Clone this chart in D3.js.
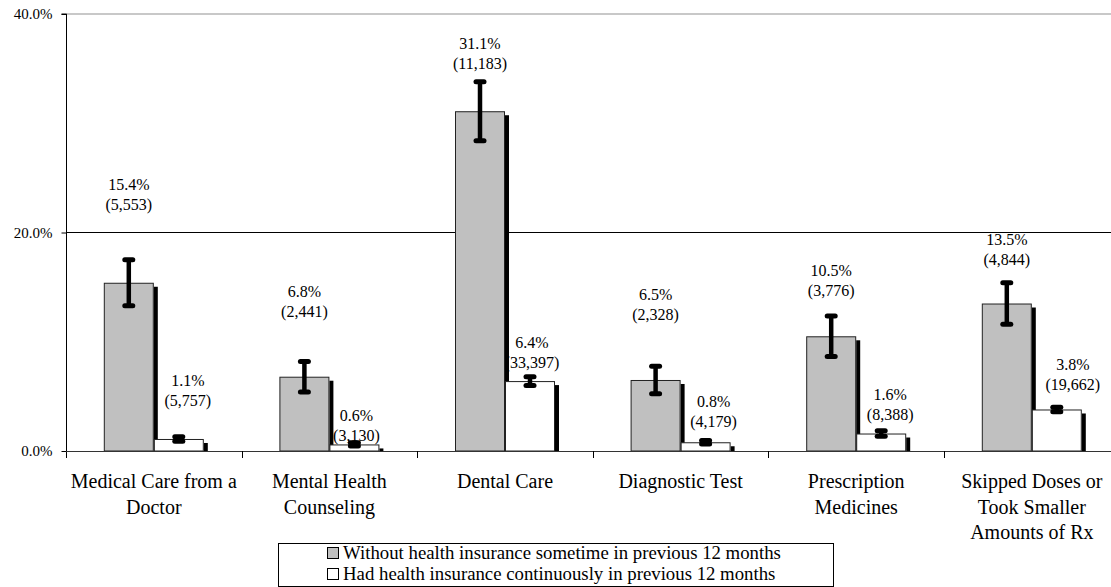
<!DOCTYPE html>
<html><head><meta charset="utf-8">
<script src="https://cdn.jsdelivr.net/npm/d3@7"></script>
<style>
html,body{margin:0;padding:0;background:#fff;}
svg{display:block;font-family:"Liberation Serif","Times New Roman",serif;}
svg text{font-family:"Liberation Serif","Times New Roman",serif;}
</style></head>
<body>
<svg id="chart" width="1111" height="587"></svg>
<script>
// ---- data ----
const categories = ["Medical Care from a Doctor","Mental Health Counseling","Dental Care","Diagnostic Test","Prescription Medicines","Skipped Doses or Took Smaller Amounts of Rx"];
const categoryLines = [["Medical Care from a","Doctor"],["Mental Health","Counseling"],["Dental Care"],["Diagnostic Test"],["Prescription","Medicines"],["Skipped Doses or","Took Smaller","Amounts of Rx"]];
const seriesNames = ["Without health insurance sometime in previous 12 months","Had health insurance continuously in previous 12 months"];
const uninsured = [15.4, 6.8, 31.1, 6.5, 10.5, 13.5];
const insured = [1.1, 0.6, 6.4, 0.8, 1.6, 3.8];
const uninsuredErr = [2.1, 1.4, 2.7, 1.25, 1.85, 1.9];
const insuredErr = [0.2, 0.15, 0.4, 0.15, 0.25, 0.2];
const uninsuredN = ["5,553","2,441","11,183","2,328","3,776","4,844"];
const insuredN = ["5,757","3,130","33,397","4,179","8,388","19,662"];
// label anchor (value units, first-line baseline)
const uninsuredLabelAt = [23.9, 14.1, 36.8, 13.8, 16.0, 18.9];
const insuredLabelAt = [5.95, 2.75, 9.4, 4.0, 4.65, 7.4];
const insuredLabelDx = [9, 2, 2, 8, 9, 16];
const yTicks = [0, 20, 40];

// ---- layout ----
const svg = d3.select("#chart");
const x0 = 66, plotW = 1053.6, yTop = 14, yBot = 451;
const x = d3.scaleBand().domain(categories).range([x0, x0 + plotW]).paddingInner(0).paddingOuter(0);
const y = d3.scaleLinear().domain([0, 40]).range([yBot, yTop]);
const barW = 50;
const fmt = d => d.toFixed(1) + "%";

// gridlines
svg.append("line").attr("x1", x0).attr("x2", 1111).attr("y1", y(40)).attr("y2", y(40))
  .attr("stroke", "#c8c8c8").attr("stroke-width", 2);
svg.append("line").attr("x1", x0).attr("x2", 1111).attr("y1", y(20)).attr("y2", y(20))
  .attr("stroke", "#000").attr("stroke-width", 1);

// y axis
const yAxis = d3.axisLeft(y).tickValues(yTicks).tickFormat(d => d.toFixed(1) + "%").tickSize(5).tickPadding(9);
const gy = svg.append("g").attr("transform", `translate(${x0 + 0.5},0)`).call(yAxis)
  .attr("font-family", null).attr("font-size", null);
gy.select(".domain").attr("stroke", "#000").attr("d", `M-5,${yTop}H0V${yBot + 7}`);
gy.selectAll(".tick line").attr("stroke", "#000");
gy.selectAll(".tick text").style("font-size", "15px").attr("fill", "#000");

// bars
const series = [
  {vals: uninsured, err: uninsuredErr, fill: "#c0c0c0", off: -barW},
  {vals: insured, err: insuredErr, fill: "#ffffff", off: 0}
];
series.forEach(s => {
  const g = svg.append("g");
  categories.forEach((c, i) => {
    const cx = x(c) + x.bandwidth() / 2 + s.off;
    const top = y(s.vals[i]);
    g.append("rect").attr("x", cx + barW).attr("y", top + 4).attr("width", 4).attr("height", yBot - top - 4).attr("fill", "#000");
    g.append("rect").attr("x", cx + 0.5).attr("y", top + 0.5).attr("width", barW - 1).attr("height", yBot - top - 0.5)
      .attr("fill", s.fill).attr("stroke", "#222").attr("stroke-width", 1);
  });
});

// x axis line
svg.append("line").attr("x1", x0).attr("x2", 1111).attr("y1", yBot + 0.5).attr("y2", yBot + 0.5).attr("stroke", "#333").attr("stroke-width", 1.2);
// category ticks
categories.forEach((c, i) => {
  if (i === 0) return;
  svg.append("line").attr("x1", Math.round(x(c)) + 0.5).attr("x2", Math.round(x(c)) + 0.5).attr("y1", yBot).attr("y2", yBot + 7).attr("stroke", "#000");
});

// error bars
series.forEach(s => {
  const g = svg.append("g");
  categories.forEach((c, i) => {
    const cx = x(c) + x.bandwidth() / 2 + s.off + barW / 2;
    const hi = y(s.vals[i] + s.err[i]), lo = y(s.vals[i] - s.err[i]);
    g.append("line").attr("x1", cx).attr("x2", cx).attr("y1", hi).attr("y2", lo).attr("stroke", "#000").attr("stroke-width", 4.5);
    [hi, lo].forEach(yy => g.append("line").attr("x1", cx - 4).attr("x2", cx + 4).attr("y1", yy).attr("y2", yy)
      .attr("stroke", "#000").attr("stroke-width", 5).attr("stroke-linecap", "round"));
  });
});

// data labels
const lab = svg.append("g").style("font-size", "16px").attr("text-anchor", "middle").attr("fill", "#000");
categories.forEach((c, i) => {
  const cg = x(c) + x.bandwidth() / 2 - barW / 2;
  const cw = x(c) + x.bandwidth() / 2 + barW / 2 + insuredLabelDx[i];
  const yg = y(uninsuredLabelAt[i]);
  lab.append("text").attr("x", cg).attr("y", yg).text(fmt(uninsured[i]));
  lab.append("text").attr("x", cg).attr("y", yg + 20).text("(" + uninsuredN[i] + ")");
  const yw = y(insuredLabelAt[i]);
  lab.append("text").attr("x", cw).attr("y", yw).text(fmt(insured[i]));
  lab.append("text").attr("x", cw).attr("y", yw + 20).text("(" + insuredN[i] + ")");
});

// category labels
const cl = svg.append("g").style("font-size", "20px").attr("text-anchor", "middle").attr("fill", "#000");
categories.forEach((c, i) => {
  categoryLines[i].forEach((ln, k) => {
    cl.append("text").attr("x", x(c) + x.bandwidth() / 2).attr("y", 488 + k * 25.5).text(ln);
  });
});

// legend
const lg = svg.append("g");
lg.append("rect").attr("x", 278.5).attr("y", 543.5).attr("width", 555).attr("height", 43).attr("fill", "#fff").attr("stroke", "#000");
const lfill = ["#c0c0c0", "#ffffff"];
seriesNames.forEach((n, k) => {
  const ly = 553 + k * 21;
  lg.append("rect").attr("x", 327.5).attr("y", ly - 5.5).attr("width", 11).attr("height", 11).attr("fill", lfill[k]).attr("stroke", "#000");
  lg.append("text").attr("x", 343).attr("y", ly + 6).style("font-size", "18.8px").text(n);
});
</script>
</body></html>
